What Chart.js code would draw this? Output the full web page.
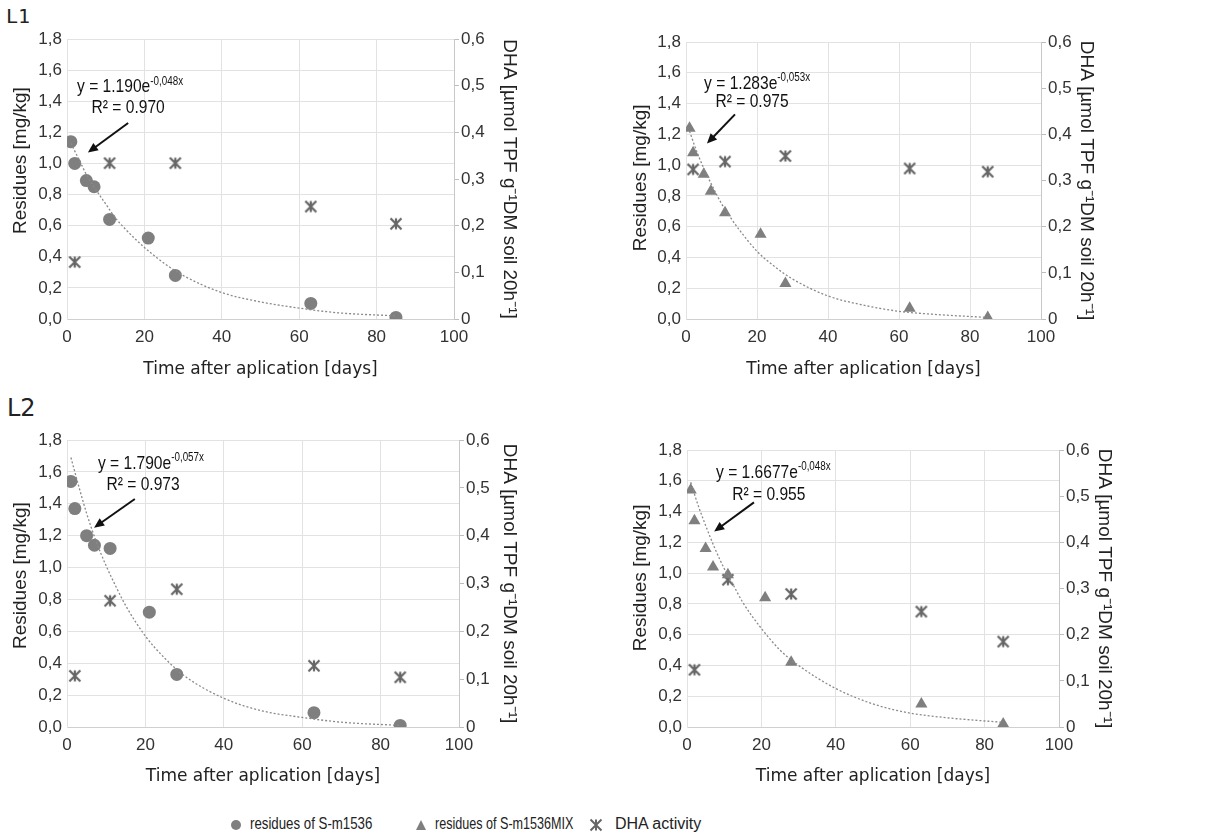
<!DOCTYPE html>
<html>
<head>
<meta charset="utf-8">
<script src="https://cdn.jsdelivr.net/npm/chart.js@4.4.1/dist/chart.umd.min.js"></script>
<style>
  body { margin: 0; background: #fff; width: 1228px; height: 838px; position: relative; overflow: hidden; }
  canvas.panel { position: absolute; }
  .tag { position: absolute; color: #222; }
  .leg { position: absolute; top: 814px; font: 17px "Liberation Sans", Arial, sans-serif; color: #222; white-space: nowrap; transform: scaleX(0.78); transform-origin: 0 50%; }
  .dot { position: absolute; top: 820px; width: 10px; height: 10px; border-radius: 50%; background: #7f7f7f; }
  .tri { position: absolute; top: 820px; width: 0; height: 0; border-left: 5px solid transparent; border-right: 5px solid transparent; border-bottom: 10px solid #7f7f7f; }
  #legStar { position: absolute; }
</style>
</head>
<body>
<div class="tag" style="left:6px;top:4px;font:20px 'DejaVu Sans Mono', monospace;">L1</div>
<div class="tag" style="left:7px;top:394px;font:24px 'DejaVu Sans', sans-serif;">L2</div>

<canvas class="panel" id="p1"></canvas>
<canvas class="panel" id="p2"></canvas>
<canvas class="panel" id="p3"></canvas>
<canvas class="panel" id="p4"></canvas>

<span class="dot" style="left:231px"></span>
<span class="leg" style="left:250px">residues of S-m1536</span>
<span class="tri" style="left:416px"></span>
<span class="leg" style="left:435px;transform:scaleX(0.74)">residues of S-m1536MIX</span>
<canvas id="legStar" width="14" height="14" style="left:589px;top:818px"></canvas>
<span class="leg" style="left:615px;transform:none;font-size:16px;top:815px">DHA activity</span>

<script>
// sampling days
const days = [1, 2, 5, 7, 11, 21, 28, 63, 85];
const dhaDays = [2, 11, 28, 63, 85];
const trendDays = [1, 3, 5, 7.5, 10, 12.5, 15, 20, 25, 30, 40, 50, 60, 70, 85];

// residues [mg/kg]
const resL1 = [1.14, 1.00, 0.89, 0.85, 0.64, 0.52, 0.28, 0.10, 0.01];
const resL1Mix = [1.24, 1.08, 0.94, 0.83, 0.69, 0.55, 0.23, 0.07, 0.01];
const resL2 = [1.54, 1.37, 1.20, 1.14, 1.12, 0.72, 0.33, 0.09, 0.01];
const resL2Mix = [1.54, 1.34, 1.16, 1.04, 0.99, 0.84, 0.42, 0.15, 0.02];

// DHA activity (right axis)
const dhaL1 = [0.122, 0.334, 0.334, 0.241, 0.204];
const dhaL1Mix = [0.324, 0.341, 0.353, 0.326, 0.319];
const dhaL2 = [0.107, 0.264, 0.288, 0.128, 0.104];
const dhaL2Mix = [0.124, 0.319, 0.288, 0.250, 0.185];

// dotted exponential trend lines
const trendL1 = [1.13, 1.03, 0.93, 0.83, 0.74, 0.65, 0.58, 0.46, 0.36, 0.28, 0.17, 0.11, 0.07, 0.04, 0.02];
const trendL1Mix = [1.22, 1.09, 0.98, 0.86, 0.75, 0.66, 0.58, 0.44, 0.34, 0.26, 0.15, 0.09, 0.05, 0.03, 0.01];
const trendL2 = [1.69, 1.51, 1.34, 1.16, 1.01, 0.88, 0.76, 0.57, 0.43, 0.32, 0.18, 0.10, 0.06, 0.03, 0.01];
const trendL2Mix = [1.59, 1.44, 1.31, 1.16, 1.03, 0.92, 0.81, 0.64, 0.50, 0.40, 0.25, 0.15, 0.09, 0.06, 0.03];

// tick values
const xTicks = [0, 20, 40, 60, 80, 100];
const leftTicks = [0, 0.2, 0.4, 0.6, 0.8, 1.0, 1.2, 1.4, 1.6, 1.8];
const rightTicks = [0, 0.1, 0.2, 0.3, 0.4, 0.5, 0.6];

const GREY = '#7f7f7f';
const SANS = '"Liberation Sans", Arial, sans-serif';

function drawStar(c, size, lw) {
    let r = size / 2 - 1.5, m = size / 2;
    c.strokeStyle = '#666';
    c.lineWidth = lw;
    c.beginPath();
    c.moveTo(m - r, m - r); c.lineTo(m + r, m + r);
    c.moveTo(m + r, m - r); c.lineTo(m - r, m + r);
    c.moveTo(m, m - r); c.lineTo(m, m + r);
    c.stroke();
}

let starImg = document.createElement('canvas');
starImg.width = 14; starImg.height = 14;
drawStar(starImg.getContext('2d'), 14, 2.2);
drawStar(document.getElementById('legStar').getContext('2d'), 14, 2);

// narrow-looking text: regular sans squeezed horizontally
function squeezed(ctx, text, px, py, align) {
    ctx.save();
    ctx.translate(px, py);
    ctx.scale(0.82, 1);
    ctx.textAlign = align;
    ctx.fillText(text, 0, 0);
    let w = ctx.measureText(text).width * 0.82;
    ctx.restore();
    return w;
}

// equation text + arrow
const notesPlugin = {
    id: 'notes',
    afterDatasetsDraw(chart) {
        let n = chart.options.plugins.notes;
        if (!n) return;
        let ctx = chart.ctx, x = chart.scales.x, y = chart.scales.y;
        ctx.save();
        ctx.fillStyle = '#111';
        ctx.textBaseline = 'middle';
        ctx.font = '19px ' + SANS;
        let ex = x.getPixelForValue(n.eqAt[0]), ey = y.getPixelForValue(n.eqAt[1]);
        let w = squeezed(ctx, n.eq, ex, ey, 'left');
        ctx.font = '12px ' + SANS;
        squeezed(ctx, n.exp, ex + w, ey - 6, 'left');
        ctx.font = '19px ' + SANS;
        squeezed(ctx, n.r2, x.getPixelForValue(n.r2At[0]), y.getPixelForValue(n.r2At[1]), 'center');

        let x1 = x.getPixelForValue(n.from[0]), y1 = y.getPixelForValue(n.from[1]);
        let x2 = x.getPixelForValue(n.to[0]), y2 = y.getPixelForValue(n.to[1]);
        let a = Math.atan2(y2 - y1, x2 - x1);
        ctx.strokeStyle = '#111';
        ctx.lineWidth = 2;
        ctx.beginPath();
        ctx.moveTo(x1, y1);
        ctx.lineTo(x2 - 6 * Math.cos(a), y2 - 6 * Math.sin(a));
        ctx.stroke();
        ctx.beginPath();
        ctx.moveTo(x2, y2);
        ctx.lineTo(x2 - 11 * Math.cos(a - 0.42), y2 - 11 * Math.sin(a - 0.42));
        ctx.lineTo(x2 - 11 * Math.cos(a + 0.42), y2 - 11 * Math.sin(a + 0.42));
        ctx.closePath();
        ctx.fill();
        ctx.restore();
    }
};

function pts(xs, ys) {
    return xs.map((v, i) => ({ x: v, y: ys[i] }));
}

function makePanel(id, box, plot, lift, residues, marker, dha, trend, notes) {
    let el = document.getElementById(id);
    el.style.left = box.l + 'px';
    el.style.top = box.t + 'px';
    el.width = box.r - box.l;
    el.height = box.b - box.t;

    new Chart(el, {
        type: 'scatter',
        data: {
            datasets: [
                {
                    data: pts(trendDays, trend),
                    showLine: true,
                    borderColor: '#8a8a8a',
                    borderWidth: 1.3,
                    borderDash: [2, 2],
                    pointRadius: 0,
                    cubicInterpolationMode: 'monotone',
                    yAxisID: 'y'
                },
                {
                    data: pts(days, residues),
                    pointStyle: marker,
                    pointRadius: marker === 'circle' ? 6.5 : 7,
                    backgroundColor: GREY,
                    borderColor: GREY,
                    borderWidth: 0,
                    yAxisID: 'y'
                },
                {
                    data: pts(dhaDays, dha),
                    pointStyle: starImg,
                    yAxisID: 'y2'
                }
            ]
        },
        options: {
            responsive: false,
            animation: false,
            events: [],
            layout: { padding: { top: plot.t - box.t, left: 0, right: 0, bottom: 0 } },
            plugins: { legend: { display: false }, tooltip: { enabled: false }, notes: notes },
            scales: {
                x: {
                    type: 'linear',
                    min: 0, max: 100,
                    afterBuildTicks: s => { s.ticks = xTicks.map(v => ({ value: v })); },
                    afterFit: s => { s.height = box.b - plot.b; },
                    grid: { color: '#e2e2e2', drawTicks: false },
                    border: { color: '#d0d0d0' },
                    ticks: { color: '#333', padding: 8, font: { family: SANS, size: 17 } },
                    title: {
                        display: true, text: 'Time after aplication [days]', color: '#222',
                        padding: 0, font: { family: '"DejaVu Sans", Verdana, sans-serif', size: 17 }
                    }
                },
                y: {
                    position: 'left',
                    min: 0, max: 1.8,
                    afterBuildTicks: s => { s.ticks = leftTicks.map(v => ({ value: v })); },
                    afterFit: s => { s.width = plot.l - box.l; },
                    grid: { color: '#e2e2e2', drawTicks: false },
                    border: { color: '#e2e2e2' },
                    ticks: {
                        color: '#333', padding: 5, font: { family: SANS, size: 17 },
                        callback: v => v.toFixed(1).replace('.', ',')
                    },
                    title: {
                        display: true, text: '\u00a0'.repeat(lift) + 'Residues [mg/kg]', color: '#222',
                        padding: 0, font: { family: SANS, size: 19 }
                    }
                },
                y2: {
                    position: 'right',
                    min: 0, max: 0.6,
                    afterBuildTicks: s => { s.ticks = rightTicks.map(v => ({ value: v })); },
                    afterFit: s => { s.width = box.r - plot.r; },
                    grid: { drawOnChartArea: false, color: '#bdbdbd', tickLength: 5 },
                    border: { color: '#c8c8c8' },
                    ticks: {
                        color: '#333', padding: 2, font: { family: SANS, size: 17 },
                        callback: v => v === 0 ? '0' : v.toFixed(1).replace('.', ',')
                    },
                    title: {
                        display: true, text: 'DHA [µmol TPF g⁻¹DM soil 20h⁻¹]', color: '#222',
                        padding: 0, font: { family: SANS, size: 19 }
                    }
                }
            }
        },
        plugins: [notesPlugin]
    });
}

makePanel('p1', { l: 9, t: 20, r: 521, b: 380 }, { l: 67, t: 39, r: 454, b: 319 }, 7,
    resL1, 'circle', dhaL1, trendL1,
    { eq: 'y = 1.190e', exp: '-0,048x', eqAt: [2.6, 1.49], r2: 'R² = 0.970', r2At: [15.8, 1.36], from: [15.8, 1.26], to: [5.4, 1.07] });

makePanel('p2', { l: 629, t: 22, r: 1098, b: 380 }, { l: 686, t: 42, r: 1041, b: 319 }, 1,
    resL1Mix, 'triangle', dhaL1Mix, trendL1Mix,
    { eq: 'y = 1.283e', exp: '-0,053x', eqAt: [5.1, 1.53], r2: 'R² = 0.975', r2At: [18.6, 1.41], from: [13.8, 1.33], to: [5.9, 1.14] });

makePanel('p3', { l: 9, t: 418, r: 521, b: 787 }, { l: 67, t: 440, r: 459, b: 727 }, 3,
    resL2, 'circle', dhaL2, trendL2,
    { eq: 'y = 1.790e', exp: '-0,057x', eqAt: [7.9, 1.65], r2: 'R² = 0.973', r2At: [19.4, 1.52], from: [17.3, 1.43], to: [6.9, 1.25] });

makePanel('p4', { l: 629, t: 428, r: 1116, b: 787 }, { l: 687, t: 450, r: 1059, b: 727 }, 4,
    resL2Mix, 'triangle', dhaL2Mix, trendL2Mix,
    { eq: 'y = 1.6677e', exp: '-0,048x', eqAt: [7.8, 1.65], r2: 'R² = 0.955', r2At: [22.0, 1.51], from: [18.0, 1.46], to: [7.3, 1.27] });
</script>
</body>
</html>
